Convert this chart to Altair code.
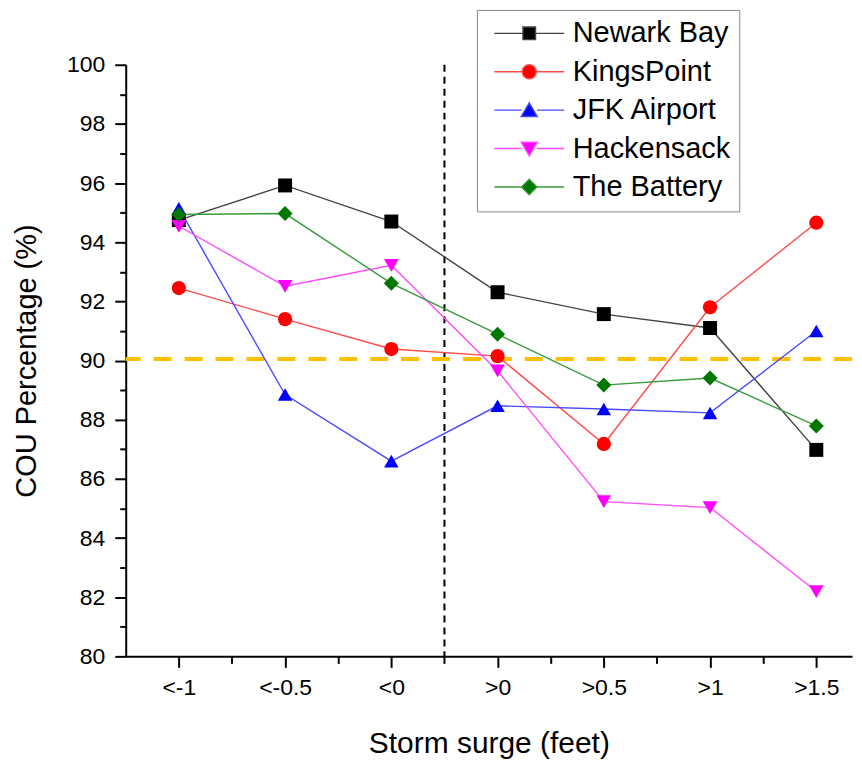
import json
import altair as alt
import pandas as pd

# ---- data ----
categories = ["<-1", "<-0.5", "<0", ">0", ">0.5", ">1", ">1.5"]
series = ["Newark Bay", "KingsPoint", "JFK Airport", "Hackensack", "The Battery"]
newark_bay = [94.75, 95.92, 94.70, 92.31, 91.57, 91.10, 86.98]
kings_point = [92.45, 91.40, 90.39, 90.15, 87.18, 91.80, 94.66]
jfk_airport = [95.15, 88.85, 86.60, 88.47, 88.36, 88.23, 91.00]
hackensack = [94.54, 92.51, 93.22, 89.65, 85.23, 85.03, 82.19]
the_battery = [94.94, 94.97, 92.61, 90.89, 89.17, 89.41, 87.79]
threshold = [90.05]
divider = [3.5]  # boundary between "<0" and ">0"

y_ticks = list(range(80, 101))
x_ticks = [1 + 0.5 * i for i in range(13)]

# ---- styles ----
marker_colors = ["#000000", "#ff0000", "#0000ff", "#ff00ff", "#007700"]
line_colors = ["#444444", "#ff4a4a", "#4a4aff", "#ff4aff", "#3a9a3a"]
marker_shapes = ["square", "circle", "triangle-up", "triangle-down", "diamond"]
marker_sizes = [196, 225, 289, 289, 256]
FONT = "Liberation Sans"


def _f(v):
    return ("%.3f" % v).rstrip("0").rstrip(".")


def legend_path(kind, s=4.14):
    """Legend glyph: short line with a marker in its middle (unit box, shifted by s)."""
    g = 1.0 if kind in ("square", "circle") else 1.1
    line = "M%s,0H%sM%s,0H%s" % (_f(s - 5), _f(s - g), _f(s + g), _f(s + 5))
    if kind == "square":
        m = "M%s,-0.9H%sV0.9H%sZ" % (_f(s - 0.9), _f(s + 0.9), _f(s - 0.9))
    elif kind == "circle":
        m = "M%s,0A1,1,0,1,0,%s,0A1,1,0,1,0,%s,0Z" % (_f(s - 1), _f(s + 1), _f(s - 1))
    elif kind == "triangle-up":
        m = "M%s,-1.05L%s,0.9H%sZ" % (_f(s), _f(s + 1.15), _f(s - 1.15))
    elif kind == "triangle-down":
        m = "M%s,1.05L%s,-0.9H%sZ" % (_f(s), _f(s + 1.15), _f(s - 1.15))
    else:
        m = "M%s,0L%s,-1.1L%s,0L%s,1.1Z" % (_f(s - 1.1), _f(s), _f(s + 1.1), _f(s))
    return line + m


legend_paths = [legend_path(k) for k in marker_shapes]

rows = []
for name, vals in zip(series, [newark_bay, kings_point, jfk_airport, hackensack, the_battery]):
    for i, (cat, v) in enumerate(zip(categories, vals)):
        rows.append({"series": name, "category": cat, "pos": i + 1, "value": v})
df = pd.DataFrame(rows)

label_expr = (
    "datum.value % 1 == 0 && datum.value >= 1 && datum.value <= "
    + str(len(categories))
    + " ? "
    + json.dumps(categories)
    + "[datum.value - 1] : ''"
)

axis_style = dict(
    grid=False,
    domainColor="black",
    domainWidth=2,
    tickColor="black",
    tickWidth=2,
    labelColor="black",
    titleColor="black",
    labelFont=FONT,
    titleFont=FONT,
    titleFontWeight="normal",
    labelFontSize=23,
    labelFlush=False,
)

x_enc = alt.X(
    "pos:Q",
    scale=alt.Scale(domain=[0.5, 7.336], nice=False, zero=False),
    axis=alt.Axis(
        values=x_ticks,
        labelExpr=label_expr,
        tickSize={"condition": {"test": "datum.value % 1 == 0", "value": 11}, "value": 7},
        title="Storm surge (feet)",
        titleFontSize=30,
        labelPadding=9,
        titlePadding=29,
        **axis_style,
    ),
)
y_enc = alt.Y(
    "value:Q",
    scale=alt.Scale(domain=[80, 100], nice=False, zero=False),
    axis=alt.Axis(
        values=y_ticks,
        labelExpr="datum.value % 2 == 0 ? datum.label : ''",
        tickSize={"condition": {"test": "datum.value % 2 == 0", "value": 11}, "value": 6},
        title="COU Percentage (%)",
        titleFontSize=29,
        labelPadding=10,
        titlePadding=25,
        **axis_style,
    ),
)

base = alt.Chart(df)

vline = alt.Chart(pd.DataFrame({"pos": divider})).mark_rule(
    color="black", strokeWidth=2, strokeDash=[7, 5]
).encode(x=x_enc)

hline = alt.Chart(pd.DataFrame({"value": threshold})).mark_rule(
    color="#FFC000", strokeWidth=4, strokeDash=[18, 13]
).encode(y=y_enc)

lines = base.mark_line(strokeWidth=1.4).encode(
    x=x_enc,
    y=y_enc,
    stroke=alt.Stroke("series:N", scale=alt.Scale(domain=series, range=line_colors), legend=None),
)

points = base.mark_point(filled=True, opacity=1).encode(
    x=x_enc,
    y=y_enc,
    color=alt.Color("series:N", scale=alt.Scale(domain=series, range=marker_colors), legend=None),
    shape=alt.Shape("series:N", scale=alt.Scale(domain=series, range=marker_shapes), legend=None),
    size=alt.Size("series:N", scale=alt.Scale(domain=series, range=marker_sizes), legend=None),
)

leg = dict(
    title=None,
    orient="none",
    legendX=352,
    legendY=-55,
    labelFontSize=29,
    labelFont=FONT,
    labelColor="black",
    labelOffset=58,
    symbolSize=196,
    symbolStrokeWidth=1.4,
    symbolOpacity=1,
    rowPadding=8.5,
    padding=9,
    strokeColor="#888888",
    fillColor="white",
)

legend_layer = base.transform_filter("false").mark_point(filled=True, opacity=1).encode(
    x=x_enc,
    y=y_enc,
    fill=alt.Fill("series:N", scale=alt.Scale(domain=series, range=marker_colors), legend=alt.Legend(**leg)),
    stroke=alt.Stroke("series:N", scale=alt.Scale(domain=series, range=line_colors), legend=alt.Legend(**leg)),
    shape=alt.Shape("series:N", scale=alt.Scale(domain=series, range=legend_paths), legend=alt.Legend(**leg)),
)

chart = (
    alt.layer(vline, hline, lines, points, legend_layer)
    .resolve_scale(color="independent", shape="independent", stroke="independent",
                   fill="independent", size="independent")
    .properties(width=728, height=593, padding={"left": 4, "top": 0, "right": 0, "bottom": 0})
    .configure(font=FONT)
    .configure_view(stroke=None)
)

chart.save("out.html", embed_options={"renderer": "svg", "actions": False})
